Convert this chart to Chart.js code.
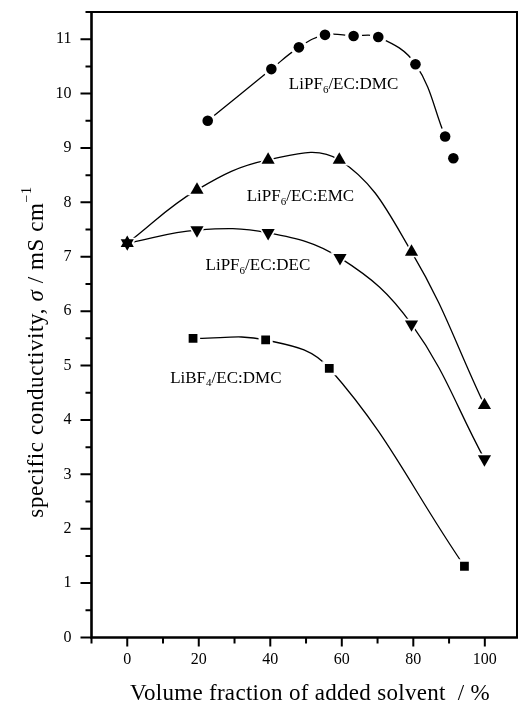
<!DOCTYPE html>
<html>
<head>
<meta charset="utf-8">
<script src="https://cdn.jsdelivr.net/npm/chart.js@4/dist/chart.umd.min.js"></script>
<style>
  html, body { margin: 0; padding: 0; background: #fff; }
  #wrap { width: 528px; height: 706px; }
</style>
</head>
<body>
<div id="wrap"><canvas id="c" width="528" height="706"></canvas></div>
<script>
// Specific conductivity (mS/cm) versus volume fraction (%) of added co-solvent
const dmcX = [22.5, 40.3, 48.0, 55.3, 63.3, 70.2, 80.6, 88.9, 91.2];
const dmcY = [9.50, 10.45, 10.85, 11.08, 11.06, 11.04, 10.54, 9.21, 8.81];

const emcX = [0, 19.5, 39.4, 59.3, 79.5, 99.9];
const emcY = [7.25, 8.23, 8.78, 8.78, 7.09, 4.27];

const decX = [0, 19.5, 39.4, 59.5, 79.5, 99.9];
const decY = [7.25, 7.49, 7.44, 6.98, 5.76, 3.28];

const bf4X = [18.4, 38.7, 56.5, 94.3];
const bf4Y = [5.50, 5.47, 4.95, 1.31];

const xTickValues = [0, 20, 40, 60, 80, 100];
const yTickValues = [0, 1, 2, 3, 4, 5, 6, 7, 8, 9, 10, 11];

const xTitle = 'Volume fraction of added solvent  / %';

const INK = '#000';
const SERIF = '"Liberation Serif", "Times New Roman", serif';

function toPoints(xs, ys) { return xs.map((x, i) => ({ x: x, y: ys[i] })); }

// marker look for each curve
const series = [
  { name: 'LiPF6/EC:DMC', xs: dmcX, ys: dmcY, style: 'circle',   r: 5.3, halo: 8.5, rot: 0,   curveEnd: 8 },
  { name: 'LiPF6/EC:EMC', xs: emcX, ys: emcY, style: 'triangle', r: 7.6, halo: 11,  rot: 0 },
  { name: 'LiPF6/EC:DEC', xs: decX, ys: decY, style: 'triangle', r: 7.6, halo: 11,  rot: 180 },
  { name: 'LiBF4/EC:DMC', xs: bf4X, ys: bf4Y, style: 'rect',     r: 6.2, halo: 10,  rot: 0 }
];

const datasets = [];
series.forEach(s => {
  const pts = toPoints(s.xs, s.ys);
  const curvePts = s.curveEnd ? pts.slice(0, s.curveEnd) : pts;
  datasets.push({
    label: s.name + ' curve', data: curvePts, showLine: true, tension: 0.4,
    borderColor: INK, borderWidth: 1.3, pointRadius: 0, fill: false, order: 2
  });
  datasets.push({
    label: s.name + ' halo', data: pts, showLine: false,
    pointStyle: s.style, pointRotation: s.rot, pointRadius: s.halo,
    pointBackgroundColor: '#fff', pointBorderWidth: 0, order: 1
  });
  datasets.push({
    label: s.name, data: pts, showLine: false,
    pointStyle: s.style, pointRotation: s.rot, pointRadius: s.r,
    pointBackgroundColor: INK, pointBorderWidth: 0, order: 0
  });
});

// curve labels, anchored at their left edge / vertical middle in data units
const curveLabels = [
  { pre: 'LiPF', sub: '6', post: '/EC:DMC', x: 45.2, y: 10.16 },
  { pre: 'LiPF', sub: '6', post: '/EC:EMC', x: 33.4, y: 8.10 },
  { pre: 'LiPF', sub: '6', post: '/EC:DEC', x: 21.9, y: 6.83 },
  { pre: 'LiBF', sub: '4', post: '/EC:DMC', x: 12.0, y: 4.77 }
];

function drawRuns(ctx, runs, x, y) {
  let cx = x;
  runs.forEach(r => {
    ctx.font = r.font;
    ctx.fillText(r.t, cx, y + (r.dy || 0));
    cx += ctx.measureText(r.t).width;
  });
  return cx - x;
}
function measureRuns(ctx, runs) {
  let w = 0;
  runs.forEach(r => { ctx.font = r.font; w += ctx.measureText(r.t).width; });
  return w;
}

const framePlugin = {
  id: 'frame',
  afterDatasetsDraw(chart) {
    const ctx = chart.ctx;
    const a = chart.chartArea;
    const xs = chart.scales.x, ys = chart.scales.y;
    ctx.save();
    ctx.strokeStyle = INK;
    ctx.fillStyle = INK;
    ctx.lineCap = 'butt';

    // frame
    ctx.lineWidth = 2;
    ctx.beginPath();
    ctx.moveTo(a.left, a.top); ctx.lineTo(a.right, a.top); ctx.lineTo(a.right, a.bottom);
    ctx.stroke();
    ctx.lineWidth = 2.6;
    ctx.beginPath();
    ctx.moveTo(a.left, a.top - 1); ctx.lineTo(a.left, a.bottom); ctx.lineTo(a.right + 1, a.bottom);
    ctx.stroke();

    // tick marks
    ctx.lineWidth = 2;
    ctx.beginPath();
    yTickValues.forEach(v => {
      const p = ys.getPixelForValue(v);
      ctx.moveTo(a.left - 11, p); ctx.lineTo(a.left, p);
      if (v < ys.max) {
        const m = ys.getPixelForValue(v + 0.5);
        ctx.moveTo(a.left - 6, m); ctx.lineTo(a.left, m);
      }
    });
    xTickValues.forEach(v => {
      const p = xs.getPixelForValue(v);
      ctx.moveTo(p, a.bottom); ctx.lineTo(p, a.bottom + 9);
      const m = xs.getPixelForValue(v - 10);
      ctx.moveTo(m, a.bottom); ctx.lineTo(m, a.bottom + 6);
    });
    ctx.stroke();

    // curve labels
    ctx.textBaseline = 'middle';
    ctx.textAlign = 'left';
    curveLabels.forEach(l => {
      const px = xs.getPixelForValue(l.x), py = ys.getPixelForValue(l.y);
      drawRuns(ctx, [
        { t: l.pre, font: '17px ' + SERIF },
        { t: l.sub, font: '11px ' + SERIF, dy: 5 },
        { t: l.post, font: '17px ' + SERIF }
      ], px, py);
    });

    // x axis title
    ctx.textBaseline = 'alphabetic';
    ctx.font = '23px ' + SERIF;
    ctx.letterSpacing = '0.3px';
    const xw = ctx.measureText(xTitle).width;
    ctx.fillText(xTitle, 310 - xw / 2, 700);

    // y axis title
    ctx.letterSpacing = '0.6px';
    const yRuns = [
      { t: 'specific conductivity, ', font: '23px ' + SERIF },
      { t: '\u03C3', font: 'italic 23px ' + SERIF },
      { t: ' / mS cm', font: '23px ' + SERIF },
      { t: '\u22121', font: '14px ' + SERIF, dy: -12 }
    ];
    ctx.save();
    ctx.translate(43, 352);
    ctx.rotate(-Math.PI / 2);
    const yw = measureRuns(ctx, yRuns);
    drawRuns(ctx, yRuns, -yw / 2, 0);
    ctx.restore();
    ctx.letterSpacing = '0px';

    ctx.restore();
  }
};

new Chart(document.getElementById('c'), {
  type: 'scatter',
  data: { datasets: datasets },
  plugins: [framePlugin],
  options: {
    responsive: false,
    devicePixelRatio: 1,
    animation: false,
    layout: { padding: { left: 0, right: 2, top: 12, bottom: 0 } },
    plugins: { legend: { display: false }, tooltip: { enabled: false } },
    scales: {
      x: {
        type: 'linear', min: -10, max: 109,
        grid: { display: false, drawTicks: false },
        border: { display: false },
        afterBuildTicks: s => { s.ticks = xTickValues.map(v => ({ value: v })); },
        afterFit: s => { s.height = 68.5; s.paddingLeft = 0; s.paddingRight = 0; },
        ticks: { color: INK, padding: 13, maxRotation: 0, font: { family: SERIF, size: 16 } }
      },
      y: {
        type: 'linear', min: 0, max: 11.5,
        grid: { display: false, drawTicks: false },
        border: { display: false },
        afterBuildTicks: s => { s.ticks = yTickValues.map(v => ({ value: v })); },
        afterFit: s => { s.width = 91.5; s.paddingTop = 0; s.paddingBottom = 0; },
        ticks: { color: INK, padding: 20, font: { family: SERIF, size: 16 } }
      }
    }
  }
});
</script>
</body>
</html>
